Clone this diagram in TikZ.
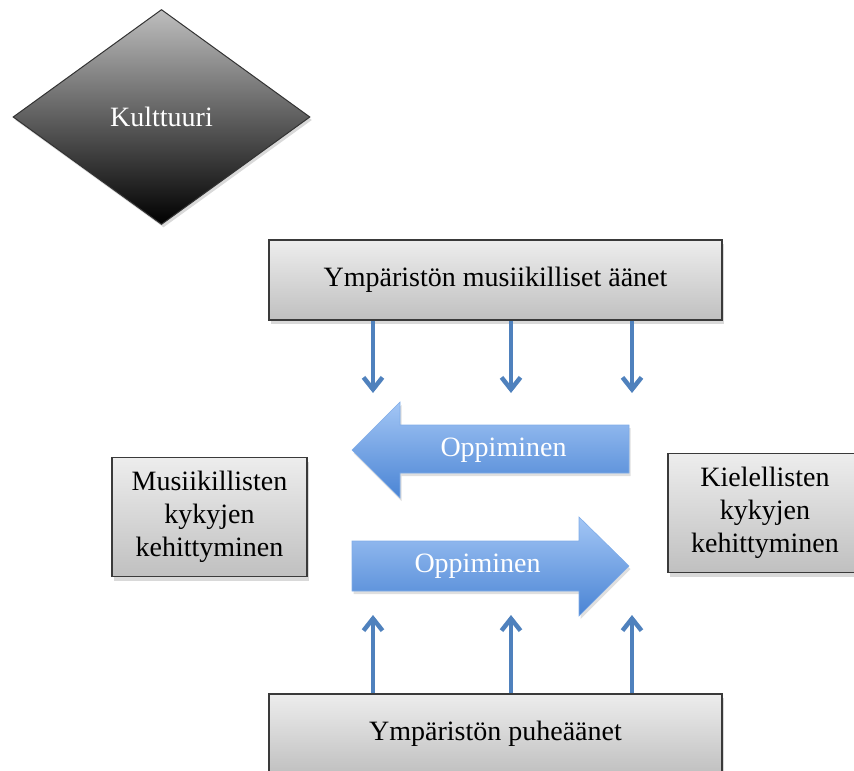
\documentclass[tikz,border=0pt]{standalone}
\usepackage{fontspec}
\setmainfont{Liberation Serif}
\usetikzlibrary{shapes.geometric,shadows,arrows.meta}
\definecolor{boxtop}{HTML}{EDEDED}
\definecolor{boxbot}{HTML}{C0C0C0}
\definecolor{boxline}{HTML}{3A3A3A}
\definecolor{arrtop}{HTML}{A3C6F5}
\definecolor{arrbot}{HTML}{4A84D4}
\definecolor{thinblue}{HTML}{4F81BD}
\definecolor{diatop}{HTML}{BEBEBE}
\begin{document}
\begin{tikzpicture}[x=1pt,y=-1pt,
  graybox/.style={draw=boxline, line width=1.3pt, top color=boxtop, bottom color=boxbot,
    drop shadow={opacity=0.3,shadow xshift=2pt,shadow yshift=-4pt},
    inner sep=0pt, align=center, font=\fontsize{28}{33}\selectfont, text=black},
  bigarrow/.style={top color=arrtop, bottom color=arrbot, draw=arrtop!60!arrbot, line width=0.6pt,
    drop shadow={opacity=0.25,shadow xshift=1.5pt,shadow yshift=-3pt}},
  whitetext/.style={text=white, font=\fontsize{28}{32}\selectfont, inner sep=0pt},
  flow/.style={draw=thinblue, line width=4.5pt, -{Straight Barb[length=12pt,width=19pt]}}]
\useasboundingbox (0,0) rectangle (854,771);
\clip (0,0) rectangle (854,771);

% diamond
\node[diamond, minimum width=297pt, minimum height=215pt, inner sep=0pt,
  top color=diatop, bottom color=black, draw=black!80, line width=1pt,
  drop shadow={opacity=0.3,shadow xshift=2pt,shadow yshift=-3pt},
  text=white, font=\fontsize{28}{32}\selectfont] (culture) at (161.5,117) {Kulttuuri};

% boxes
\node[graybox, minimum width=453pt, minimum height=80pt] (top) at (495.5,280) {Ympäristön musiikilliset äänet};
\node[graybox, minimum width=453pt, minimum height=80pt] (bot) at (495.5,734) {Ympäristön puheäänet};
\node[graybox, minimum width=195pt, minimum height=119pt] (music) at (209.5,517) {Musiikillisten\\kykyjen\\kehittyminen};
\node[graybox, minimum width=194pt, minimum height=119pt] (lang) at (765,513) {Kielellisten\\kykyjen\\kehittyminen};

% big arrows
\path[bigarrow] (629,425) -- (400,425) -- (400,402) -- (352,450) -- (400,498) -- (400,473) -- (629,473) -- cycle;
\node[whitetext] (learn1) at (503.5,450) {Oppiminen};
\path[bigarrow] (352,541) -- (579,541) -- (579,517) -- (629,566) -- (579,616) -- (579,591) -- (352,591) -- cycle;
\node[whitetext] (learn2) at (477.5,566) {Oppiminen};

% small arrows
\coordinate (d1) at (373,393);
\coordinate (d2) at (511,393);
\coordinate (d3) at (632,393);
\coordinate (u1) at (373,615);
\coordinate (u2) at (511,615);
\coordinate (u3) at (632,615);
\foreach \c in {d1,d2,d3} \draw[flow] (\c |- top.south) -- (\c);
\foreach \c in {u1,u2,u3} \draw[flow] (\c |- bot.north) -- (\c);
\end{tikzpicture}
\end{document}
